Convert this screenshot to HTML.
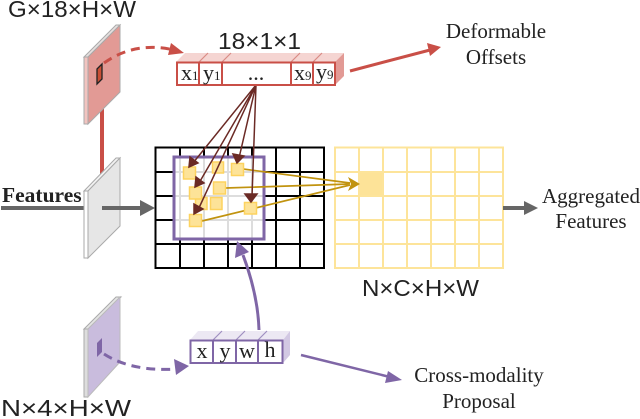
<!DOCTYPE html>
<html><head><meta charset="utf-8"><style>
html,body{margin:0;padding:0;background:#fff}
svg{display:block}
.s{font-family:"Liberation Sans",sans-serif;font-size:23px;fill:#222}
.t{font-family:"Liberation Serif",serif;font-size:21px;fill:#222}
.c{font-family:"Liberation Serif",serif;font-size:22px;fill:#222}
</style></head><body>
<svg width="640" height="419" viewBox="0 0 640 419" xmlns="http://www.w3.org/2000/svg">
<!-- yellow grid -->
<g fill="none" stroke="#fde49a" stroke-width="2">
<rect x="359" y="172" width="24" height="24" fill="#fde398" stroke="none"/>
<rect x="335" y="147.500" width="168" height="120.500"/>
<path d="M359 147V268M383 147V268M407 147V268M431 147V268M455 147V268M479 147V268M335 172H503M335 196H503M335 220H503M335 244H503"/>
</g>
<!-- black grid -->
<g fill="none" stroke="#000" stroke-width="2">
<rect x="155.500" y="147.500" width="168.500" height="120.500"/>
<path d="M180 147V268M204 147V268M228 147V268M252 147V268M276 147V268M300 147V268M155 172H324M155 196H324M155 220H324M155 244H324"/>
</g>
<!-- purple window -->
<rect x="174" y="157" width="90" height="82" fill="#fff"/>
<path d="M180 157V239M204 157V239M228 157V239M252 157V239M174 172H264M174 196H264M174 220H264" stroke="#ddd" stroke-width="2" fill="none"/>
<rect x="174" y="157" width="90" height="82" fill="none" stroke="#7f66a6" stroke-width="3"/>
<!-- gold lines -->
<g stroke="#c1930f" stroke-width="1.700" fill="none">
<path d="M243 169L350 183M226 188L350 184M202 221L350 185"/>
</g>
<path d="M360 184L348 177L351 184L348 191Z" fill="#c1930f"/>
<!-- yellow squares -->
<g fill="#fde398" stroke="#fdd35f" stroke-width="1.500">
<rect x="212.500" y="162" width="11" height="11"/>
<rect x="195.500" y="197.500" width="11.500" height="12"/>
<rect x="210.500" y="197.500" width="11.500" height="12"/>
<rect x="183.500" y="167" width="12" height="12"/>
<rect x="231.500" y="163.500" width="12" height="12"/>
<rect x="189.500" y="187" width="12" height="12"/>
<rect x="213.500" y="182" width="12" height="12"/>
<rect x="244.500" y="202.500" width="12" height="11.500"/>
<rect x="189.500" y="214.500" width="12" height="12"/>
</g>
<!-- brown lines -->
<g stroke="#6b2a25" stroke-width="1.500" fill="#6b2a25">
<path d="M256 85L193 163M256 85L199 183M256 85L198 210M256 85L239 158M256 85L252 197" fill="none"/>
<path d="M189 167L190 157L198 163Z"/>
<path d="M195 187L196 177L204 183Z"/>
<path d="M194 214L194 204L203 209Z"/>
<path d="M237 163L233 154L244 156Z"/>
<path d="M251 202L245 194L257 194Z"/>
</g>
<!-- top plate -->
<line x1="102" y1="105" x2="102" y2="175" stroke="#c94f47" stroke-width="4"/>
<path d="M84 57L116 25H120L88 57Z" fill="#e6e0df" stroke="#aaa"/>
<path d="M84 57H88V124H84Z" fill="#f2c4c0" stroke="#aaa"/>
<path d="M88 57L120 25V92L88 124Z" fill="#e29a95" stroke="#aaa"/>
<path d="M97 69L102 64V79L97 84Z" fill="#c94f35" stroke="#222" stroke-width="1.300"/>
<path d="M104 63Q135 41 174 50" fill="none" stroke="#c94f47" stroke-width="3" stroke-dasharray="9 6"/>
<path d="M184 53L171 43L168 55Z" fill="#c94f47"/>
<!-- top bar -->
<path d="M176 62L185 53H344L335 62Z" fill="#f5d5d2"/>
<path d="M335 62L344 53V76L335 85Z" fill="#e29a95"/>
<path d="M199 62L208 53M222 62L231 53M291 62L300 53M313 62L322 53" stroke="#d98b85" stroke-width="1.200"/>
<rect x="177" y="62.500" width="158" height="22.500" fill="#fff" stroke="#c94f47" stroke-width="2"/>
<path d="M199 62V85M222 62V85M291 62V85M313 62V85" stroke="#c94f47" stroke-width="2"/>
<text class="c" x="181" y="80">x<tspan font-size="13">1</tspan></text>
<text class="c" x="203" y="80">y<tspan font-size="13">1</tspan></text>
<text class="c" x="256" y="80" text-anchor="middle">...</text>
<text class="c" x="294" y="80">x<tspan font-size="13">9</tspan></text>
<text class="c" x="316" y="79">y<tspan font-size="13">9</tspan></text>
<!-- red arrow -->
<path d="M350 71L430 50" stroke="#c94f47" stroke-width="3" fill="none"/>
<path d="M441 47L427 43L430 56Z" fill="#c94f47"/>
<!-- features -->
<line x1="1" y1="208" x2="84" y2="208" stroke="#666" stroke-width="4"/>
<path d="M84 191L116 158H120L88 191Z" fill="#f2f2f2" stroke="#aaa"/>
<path d="M84 191H88V258H84Z" fill="#fff" stroke="#aaa"/>
<path d="M88 191L120 158V226L88 258Z" fill="#e6e6e6" stroke="#aaa"/>
<line x1="102" y1="208" x2="141" y2="208" stroke="#666" stroke-width="4"/>
<path d="M155 208L140 200V216Z" fill="#666"/>
<text x="2" y="202" font-family="Liberation Serif,serif" font-size="21.500" font-weight="bold" fill="#222">Features</text>
<line x1="503" y1="208" x2="526" y2="208" stroke="#666" stroke-width="4"/>
<path d="M538 208L524 201V215Z" fill="#666"/>
<!-- bottom plate -->
<path d="M84 329L116 297H121L88 329Z" fill="#e4e4e4" stroke="#aaa"/>
<path d="M84 329H88V397H84Z" fill="#ddd" stroke="#aaa"/>
<path d="M88 329L120 297V362L88 397Z" fill="#c9bcdd" stroke="#bbb"/>
<path d="M97 343L102 338V352L97 357Z" fill="#7f66a6"/>
<path d="M104 354Q132 372 178 369" fill="none" stroke="#7f66a6" stroke-width="3" stroke-dasharray="9 6"/>
<path d="M189 366L174 359L176 375Z" fill="#7f66a6"/>
<!-- bottom bar -->
<path d="M190 340L198 331H290L283 340Z" fill="#ece8f3"/>
<path d="M283 340L290 331V355L283 363Z" fill="#d2c8e3"/>
<path d="M213 340L222 331M236 340L245 331M258 340L267 331" stroke="#a08fc0" stroke-width="1.200"/>
<rect x="190.500" y="340.500" width="92" height="22.500" fill="#fff" stroke="#7f66a6" stroke-width="2"/>
<path d="M213 340V363M236 340V363M258 340V363" stroke="#7f66a6" stroke-width="2"/>
<text class="c" x="202" y="358" text-anchor="middle">x</text>
<text class="c" x="225" y="358" text-anchor="middle">y</text>
<text class="c" x="247" y="358" text-anchor="middle">w</text>
<text class="c" x="270" y="357" text-anchor="middle">h</text>
<!-- purple arrows -->
<path d="M259 330Q258 295 243 255" fill="none" stroke="#7f66a6" stroke-width="3"/>
<path d="M237 241L235 258L249 252Z" fill="#7f66a6"/>
<path d="M301 355L390 377" fill="none" stroke="#7f66a6" stroke-width="2.500"/>
<path d="M402 380L388 371L385 383Z" fill="#7f66a6"/>
<!-- labels -->
<text class="s" x="8" y="17" textLength="128" lengthAdjust="spacingAndGlyphs">G×18×H×W</text>
<text class="s" x="218" y="49" textLength="83" lengthAdjust="spacingAndGlyphs">18×1×1</text>
<text class="s" x="362" y="296" textLength="117" lengthAdjust="spacingAndGlyphs">N×C×H×W</text>
<text class="s" x="1" y="416" textLength="130" lengthAdjust="spacingAndGlyphs">N×4×H×W</text>
<text class="t" x="496" y="38" text-anchor="middle">Deformable</text>
<text class="t" x="496" y="64" text-anchor="middle">Offsets</text>
<text class="t" x="591" y="203" text-anchor="middle">Aggregated</text>
<text class="t" x="591" y="228" text-anchor="middle">Features</text>
<text class="t" x="479" y="382" text-anchor="middle">Cross-modality</text>
<text class="t" x="479" y="408" text-anchor="middle">Proposal</text>
</svg>
</body></html>
